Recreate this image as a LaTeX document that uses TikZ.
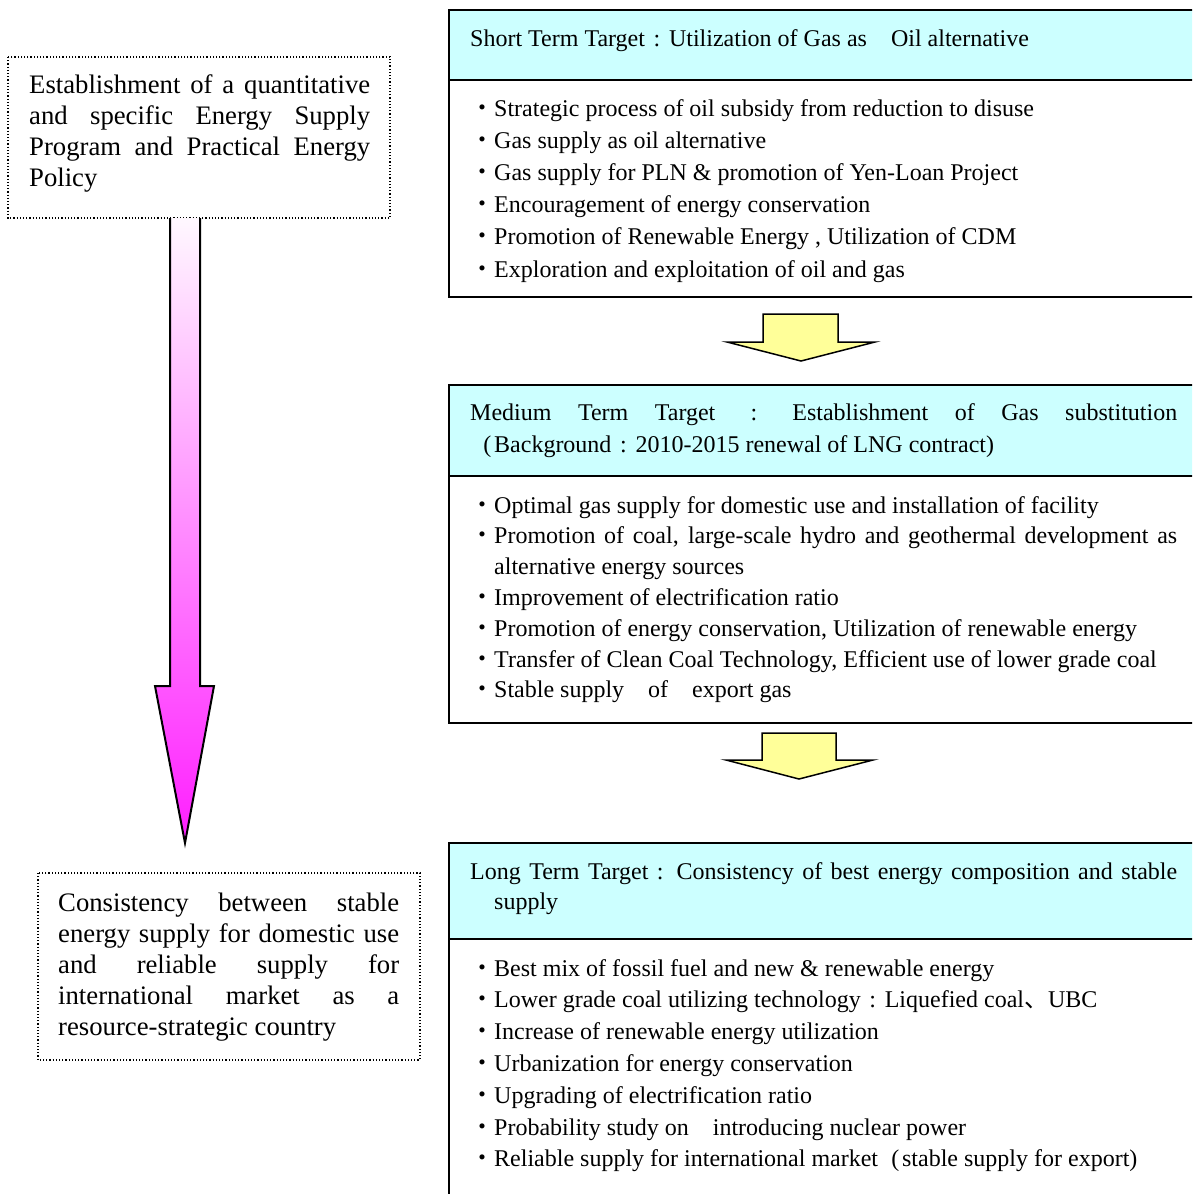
\documentclass[tikz,border=0pt]{standalone}
\usepackage{fontspec}
\setmainfont{Liberation Serif}
\newfontfamily\cjk{Noto Sans CJK JP}
\newcommand\bu{{\cjk ・}}
\newcommand\fc{\makebox[1em]{:}}
\newcommand\flp{\makebox[1em][r]{(\hspace{0.12em}}}
\newcommand\ftc{{\cjk 、}}
\newcommand\fsp{\hspace*{1em}}
\newcommand\hang{\hangindent=1em\hangafter=1 }
\definecolor{hdrcyan}{RGB}{204,255,255}
\definecolor{arrowyellow}{RGB}{255,255,153}
\definecolor{magtop}{RGB}{255,248,255}
\definecolor{magbot}{RGB}{255,30,255}
\tikzset{
  frame/.style={draw=black,line width=2pt},
  dotbox/.style={draw=black,line width=1.2pt,dotted},
  yarrow/.style={fill=arrowyellow,draw=black,line width=1.5pt,line join=miter},
  rtext/.style={anchor=base west,inner sep=0pt,text width=707pt,align=justify},
  ltext/.style={anchor=base west,inner sep=0pt,text width=341pt,align=justify,
    font=\fontsize{26.7}{31}\selectfont},
}
\begin{document}
\begin{tikzpicture}[x=1pt,y=-1pt]
\useasboundingbox (0,0) rectangle (1192,1194);
\clip (0,0) rectangle (1192,1194);

% ---------- right boxes ----------
\fill[hdrcyan] (449,10) rectangle (1200,80);
\draw[frame] (449,10) rectangle (1200,297);
\draw[frame] (449,80) -- (1200,80);

\fill[hdrcyan] (449,385) rectangle (1200,476);
\draw[frame] (449,385) rectangle (1200,723);
\draw[frame] (449,476) -- (1200,476);

\fill[hdrcyan] (449,843) rectangle (1200,939);
\draw[frame] (449,843) rectangle (1200,1210);
\draw[frame] (449,939) -- (1200,939);

% ---------- yellow arrows ----------
\draw[yarrow] (763,314) -- (838,314) -- (838,342) -- (875,342) -- (801,361)
  -- (727,342) -- (763,342) -- cycle;
\draw[yarrow] (762,733) -- (836,733) -- (836,760) -- (873,760) -- (799,779)
  -- (726,760) -- (762,760) -- cycle;

% ---------- left boxes ----------
\draw[dotbox] (8,57) rectangle (390,218);
\draw[dotbox] (38,873) rectangle (420,1060);

% ---------- magenta arrow ----------
\shade[top color=magtop,bottom color=magbot]
  (170,218) -- (170,686) -- (155,686) -- (185,843) -- (214,686) -- (200,686) -- (200,218) -- cycle;
\draw[line width=2pt,line join=miter]
  (170,218) -- (170,686) -- (155,686) -- (185,843) -- (214,686) -- (200,686) -- (200,218);

% ---------- texts ----------
\node[ltext] (lt1) at (29,93) {Establishment of a quantitative\linebreak
and specific Energy Supply\linebreak
Program and Practical Energy\linebreak
Policy};

\node[ltext] (lt2) at (58,911) {\fontsize{26.7}{30.75}\selectfont Consistency between stable\linebreak
energy supply for domestic use\linebreak
and reliable supply for\linebreak
international market as a\linebreak
resource-strategic country};

\node[rtext,font=\fontsize{24}{32}\selectfont] (h1) at (470,46)
  {Short Term Target\fc Utilization of Gas as\fsp Oil alternative};

\node[rtext,font=\fontsize{24}{32.2}\selectfont] (b1) at (470,116) {%
\hang\bu Strategic process of oil subsidy from reduction to disuse\par
\hang\bu Gas supply as oil alternative\par
\hang\bu Gas supply for PLN \& promotion of Yen-Loan Project\par
\hang\bu Encouragement of energy conservation\par
\hang\bu Promotion of Renewable Energy , Utilization of CDM\par
\hang\bu Exploration and exploitation of oil and gas\par};

\node[rtext,font=\fontsize{24}{32}\selectfont] (h2) at (470,420) {%
Medium Term Target \fc{} Establishment of Gas substitution\linebreak
\flp Background\fc 2010-2015 renewal of LNG contract)};

\node[rtext,font=\fontsize{24}{30.8}\selectfont] (b2) at (470,513) {%
\hang\bu Optimal gas supply for domestic use and installation of facility\par
\hang\bu Promotion of coal, large-scale hydro and geothermal development as\linebreak
alternative energy sources\par
\hang\bu Improvement of electrification ratio\par
\hang\bu Promotion of energy conservation, Utilization of renewable energy\par
\hang\bu Transfer of Clean Coal Technology, Efficient use of lower grade coal\par
\hang\bu Stable supply\fsp of\fsp export gas\par};

\node[rtext,font=\fontsize{24}{30}\selectfont] (h3) at (470,879) {%
\hang Long Term Target : Consistency of best energy composition and stable\linebreak
supply\par};

\node[rtext,font=\fontsize{24}{31.8}\selectfont] (b3) at (470,976) {%
\hang\bu Best mix of fossil fuel and new \& renewable energy\par
\hang\bu Lower grade coal utilizing technology\fc Liquefied coal\ftc UBC\par
\hang\bu Increase of renewable energy utilization\par
\hang\bu Urbanization for energy conservation\par
\hang\bu Upgrading of electrification ratio\par
\hang\bu Probability study on\fsp introducing nuclear power\par
\hang\bu Reliable supply for international market\flp stable supply for export)\par};

\end{tikzpicture}
\end{document}
